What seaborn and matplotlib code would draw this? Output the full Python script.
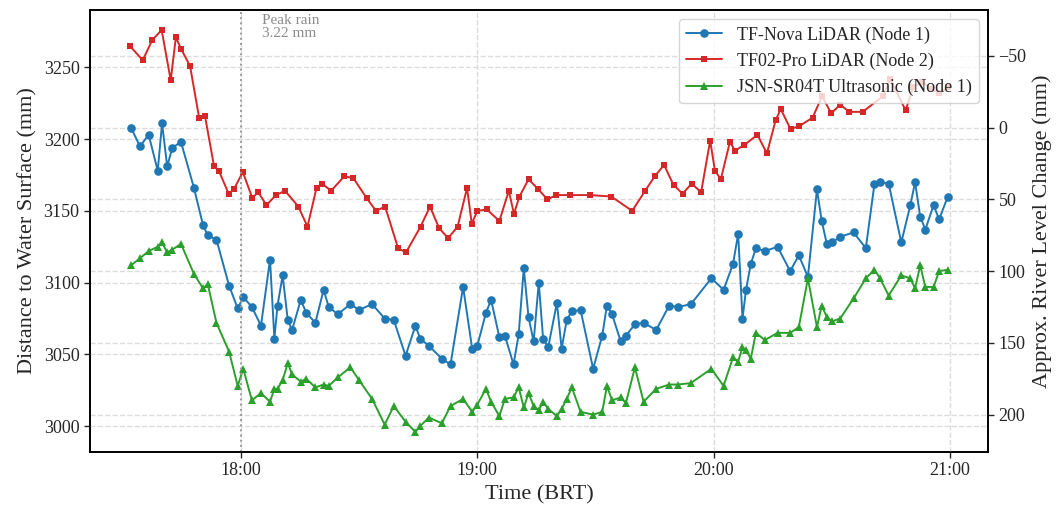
import matplotlib
matplotlib.use("Agg")
import matplotlib.pyplot as plt
import matplotlib.transforms as mtransforms
import pandas as pd
import seaborn as sns

# ---------------- data ----------------
# Node 1 timestamps (minutes after 17:00, BRT)
node1_minutes = [32.1, 34.4, 36.6, 38.9, 40.0, 41.3, 42.6, 44.8, 48.1, 50.4,
                 51.6, 53.8, 57.0, 59.2, 60.6, 62.8, 65.1, 67.4, 68.5, 69.3,
                 70.6, 71.9, 73.0, 75.2, 76.6, 78.9, 81.0, 82.3, 84.6, 87.8,
                 90.0, 93.3, 96.5, 98.8, 101.8, 104.3, 105.5, 107.7, 111.0, 113.2,
                 116.4, 118.7, 120.0, 122.2, 123.5, 125.6, 127.0, 129.2, 130.5, 131.8,
                 133.0, 134.3, 135.6, 136.7, 138.0, 140.2, 141.4, 142.7, 144.0, 146.2,
                 149.4, 151.7, 152.9, 154.2, 156.4, 157.7, 160.0, 162.2, 165.4, 168.7,
                 170.9, 174.2, 179.4, 182.5, 184.9, 186.2, 187.3, 188.2, 189.4, 190.7,
                 193.0, 196.2, 199.4, 201.6, 203.9, 206.2, 207.4, 208.7, 210.0, 212.1,
                 215.5, 218.6, 220.8, 222.2, 224.4, 227.6, 229.9, 231.1, 232.4, 233.7,
                 235.8, 237.2, 239.4]
nova_mm = [3208, 3195, 3203, 3178, 3211, 3181, 3194, 3198, 3166, 3140,
           3133, 3130, 3098, 3082, 3090, 3083, 3070, 3116, 3061, 3084,
           3105, 3074, 3067, 3088, 3079, 3072, 3095, 3083, 3078, 3085,
           3081, 3085, 3075, 3074, 3049, 3070, 3061, 3056, 3047, 3043,
           3097, 3054, 3056, 3079, 3088, 3062, 3063, 3043, 3064, 3110,
           3076, 3059, 3100, 3061, 3055, 3086, 3054, 3074, 3080, 3081,
           3040, 3063, 3084, 3078, 3059, 3063, 3071, 3072, 3067, 3084,
           3083, 3085, 3103, 3095, 3113, 3134, 3075, 3095, 3113, 3124,
           3122, 3125, 3108, 3119, 3104, 3165, 3143, 3127, 3128, 3132,
           3135, 3124, 3169, 3170, 3169, 3128, 3154, 3170, 3146, 3137,
           3154, 3144, 3160]
jsn_mm = [3112, 3117, 3122, 3125, 3128, 3121, 3123, 3127, 3106, 3096,
          3099, 3072, 3052, 3028, 3040, 3018, 3023, 3017, 3026, 3026,
          3032, 3044, 3036, 3031, 3033, 3027, 3029, 3028, 3034, 3041,
          3032, 3019, 3001, 3014, 3003, 2996, 3000, 3006, 3002, 3014,
          3019, 3010, 3015, 3026, 3017, 3007, 3019, 3020, 3027, 3013,
          3023, 3014, 3011, 3017, 3012, 3007, 3012, 3019, 3027, 3010,
          3008, 3010, 3028, 3018, 3020, 3016, 3041, 3017, 3026, 3029,
          3029, 3030, 3040, 3028, 3048, 3045, 3055, 3053, 3047, 3065,
          3060, 3065, 3065, 3069, 3103, 3069, 3084, 3076, 3073, 3075,
          3089, 3103, 3109, 3103, 3091, 3105, 3103, 3096, 3112, 3097,
          3097, 3108, 3109]

# Node 2 timestamps (minutes after 17:00, BRT)
node2_minutes = [31.8, 35.1, 37.5, 39.9, 42.2, 43.5, 44.8, 47.1, 49.4, 50.9,
                 53.2, 54.4, 56.9, 58.2, 60.5, 62.9, 64.4, 66.5, 68.9, 71.2,
                 74.6, 76.9, 79.2, 80.6, 82.9, 86.2, 88.5, 91.9, 94.3, 96.6,
                 99.9, 101.9, 105.6, 108.0, 110.3, 112.6, 115.0, 117.4, 118.6, 120.0,
                 122.4, 125.6, 128.0, 129.3, 130.7, 133.0, 135.5, 137.8, 140.0, 143.4,
                 148.7, 154.0, 159.3, 162.6, 165.0, 167.4, 169.8, 172.1, 174.4, 176.8,
                 179.1, 180.3, 181.8, 184.1, 185.4, 187.8, 191.1, 193.5, 195.7, 197.0,
                 199.5, 201.7, 205.1, 207.5, 209.8, 212.1, 214.4, 217.8, 223.0, 224.8,
                 228.7, 230.6, 232.9, 235.2, 237.2, 239.5]
tf02_mm = [3265, 3255, 3269, 3276, 3241, 3271, 3263, 3251, 3215, 3216,
           3181, 3178, 3162, 3165, 3177, 3159, 3163, 3154, 3161, 3164,
           3153, 3139, 3166, 3169, 3164, 3174, 3173, 3159, 3150, 3153,
           3124, 3121, 3139, 3153, 3138, 3131, 3139, 3166, 3141, 3150,
           3151, 3143, 3164, 3148, 3160, 3172, 3165, 3158, 3161, 3161,
           3161, 3160, 3150, 3164, 3174, 3182, 3168, 3162, 3169, 3163,
           3199, 3178, 3172, 3198, 3192, 3196, 3203, 3190, 3213, 3221,
           3207, 3209, 3215, 3230, 3218, 3224, 3219, 3219, 3230, 3242,
           3220, 3236, 3240, 3235, 3232, 3236]

series_names = ["TF-Nova LiDAR (Node 1)", "TF02-Pro LiDAR (Node 2)",
                "JSN-SR04T Ultrasonic (Node 1)"]
peak_rain_minute = 60
peak_rain_label = "Peak rain\n3.22 mm"
hour_ticks = [60, 120, 180, 240]
hour_labels = ["18:00", "19:00", "20:00", "21:00"]

# ---------------- plot ----------------
sns.set_style("ticks")
plt.rcParams["font.family"] = ["Liberation Serif", "DejaVu Serif"]
plt.rcParams["axes.edgecolor"] = "black"
plt.rcParams["axes.linewidth"] = 1.2

fig = plt.figure(figsize=(10.62, 5.11), dpi=100)
ax = fig.add_axes([0.0847, 0.1155, 0.8456, 0.865])

df_nova = pd.DataFrame({"t": node1_minutes, "mm": nova_mm})
df_tf02 = pd.DataFrame({"t": node2_minutes, "mm": tf02_mm})
df_jsn = pd.DataFrame({"t": node1_minutes, "mm": jsn_mm})

common = dict(x="t", y="mm", ax=ax, sort=False, estimator=None,
              linewidth=1.4, markeredgewidth=0)
sns.lineplot(data=df_nova, color="#1f77b4", marker="o", markersize=6.2,
             label=series_names[0], **common)
sns.lineplot(data=df_tf02, color="#d62728", marker="s", markersize=4.6,
             label=series_names[1], **common)
sns.lineplot(data=df_jsn, color="#2ca02c", marker="^", markersize=6.4,
             label=series_names[2], **common)

ax.set_xlim(21.7, 249.6)
lo, hi = ax.get_ylim()
ax.set_xticks(hour_ticks)
ax.set_xticklabels(hour_labels)
ax.set_xlabel("Time (BRT)", fontsize=16)
ax.set_ylabel("Distance to Water Surface (mm)", fontsize=16)
ax.tick_params(labelsize=13, direction="out", length=4, width=1.0)
ax.grid(True, linestyle="--", color="#dcdcdc", linewidth=1.0)

ax.axvline(peak_rain_minute, color="#9a9a9a", linestyle=":", linewidth=1.4)
trans = mtransforms.blended_transform_factory(ax.transData, ax.transAxes)
ax.text(peak_rain_minute + 5.3, 0.99, peak_rain_label, transform=trans,
        ha="left", va="top", fontsize=11, color="#8c8c8c", linespacing=1.0)

# right axis: change relative to first TF-Nova reading (rise = positive)
base = nova_mm[0]
ax2 = ax.twinx()
ax2.set_ylim(base - lo, base - hi)
ax2.set_ylabel("Approx. River Level Change (mm)", fontsize=16)
ax2.tick_params(labelsize=13, direction="out", length=4, width=1.0)
ax2.grid(True, axis="y", linestyle="--", color="#dcdcdc", linewidth=1.0)
ax2.grid(False, axis="x")

ax.set_zorder(ax2.get_zorder() + 1)
ax.patch.set_visible(False)

for a in (ax, ax2):
    for s in a.spines.values():
        s.set_visible(True)
        s.set_color("black")
        s.set_linewidth(1.2)

leg = ax.legend(loc="upper right", fontsize=13, framealpha=0.8)

fig.savefig("out.png", dpi=100)
